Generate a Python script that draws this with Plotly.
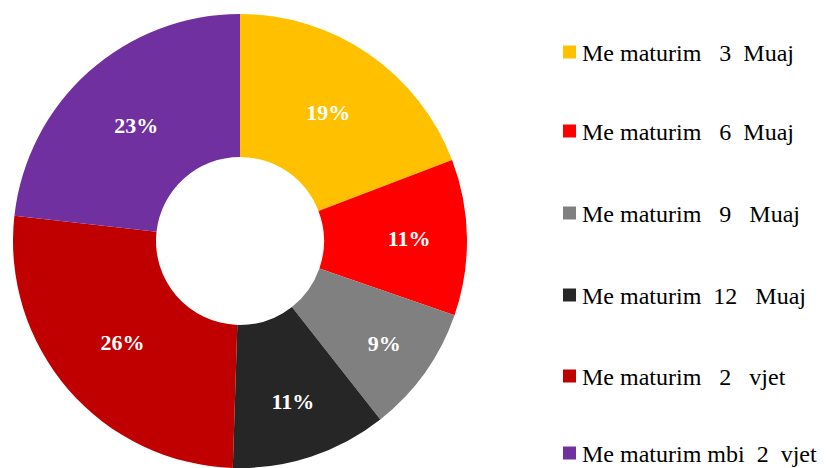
import plotly.graph_objects as go

# Share of graduates by time to employment
labels = [
    "Me maturim\u00a0\u00a0 3\u00a0 Muaj",
    "Me maturim\u00a0\u00a0 6\u00a0 Muaj",
    "Me maturim\u00a0\u00a0 9\u00a0\u00a0 Muaj",
    "Me maturim\u00a0 12\u00a0\u00a0 Muaj",
    "Me maturim\u00a0\u00a0 2\u00a0\u00a0 vjet",
    "Me maturim mbi\u00a0 2\u00a0 vjet",
]
values = [19, 11, 9, 11, 26, 23]
colors = ["#FFC000", "#FF0000", "#808080", "#262626", "#C00000", "#7030A0"]

W, H = 838, 468
FONT = "Liberation Serif"

fig = go.Figure(
    go.Pie(
        labels=labels,
        values=values,
        text=[f"{v}%" for v in values],
        textinfo="text",
        textposition="inside",
        insidetextorientation="horizontal",
        textfont=dict(family=FONT, size=22, color="white", weight="bold"),
        marker=dict(colors=colors, line=dict(width=0)),
        hole=0.37,
        sort=False,
        direction="clockwise",
        rotation=0,
        showlegend=False,
        domain=dict(x=[13 / W, 467 / W], y=[0, 454 / H]),
    )
)

# Legend column on the right: colour square + label per category
legend_rows = [52, 131, 213, 295, 376, 453]
for cy, lab, col in zip(legend_rows, labels, colors):
    fig.add_shape(
        type="rect", xref="paper", yref="paper",
        x0=563 / W, x1=576 / W,
        y0=1 - (cy + 6.5) / H, y1=1 - (cy - 6.5) / H,
        fillcolor=col, line=dict(width=0),
    )
    fig.add_annotation(
        xref="paper", yref="paper", x=580 / W, y=1 - (cy + 1) / H,
        xanchor="left", yanchor="middle", text=lab, showarrow=False,
        font=dict(family=FONT, size=24, color="black"),
    )

fig.update_layout(
    width=W, height=H,
    margin=dict(l=0, r=0, t=0, b=0),
    paper_bgcolor="white", plot_bgcolor="white",
)

fig.write_html("out.html")
